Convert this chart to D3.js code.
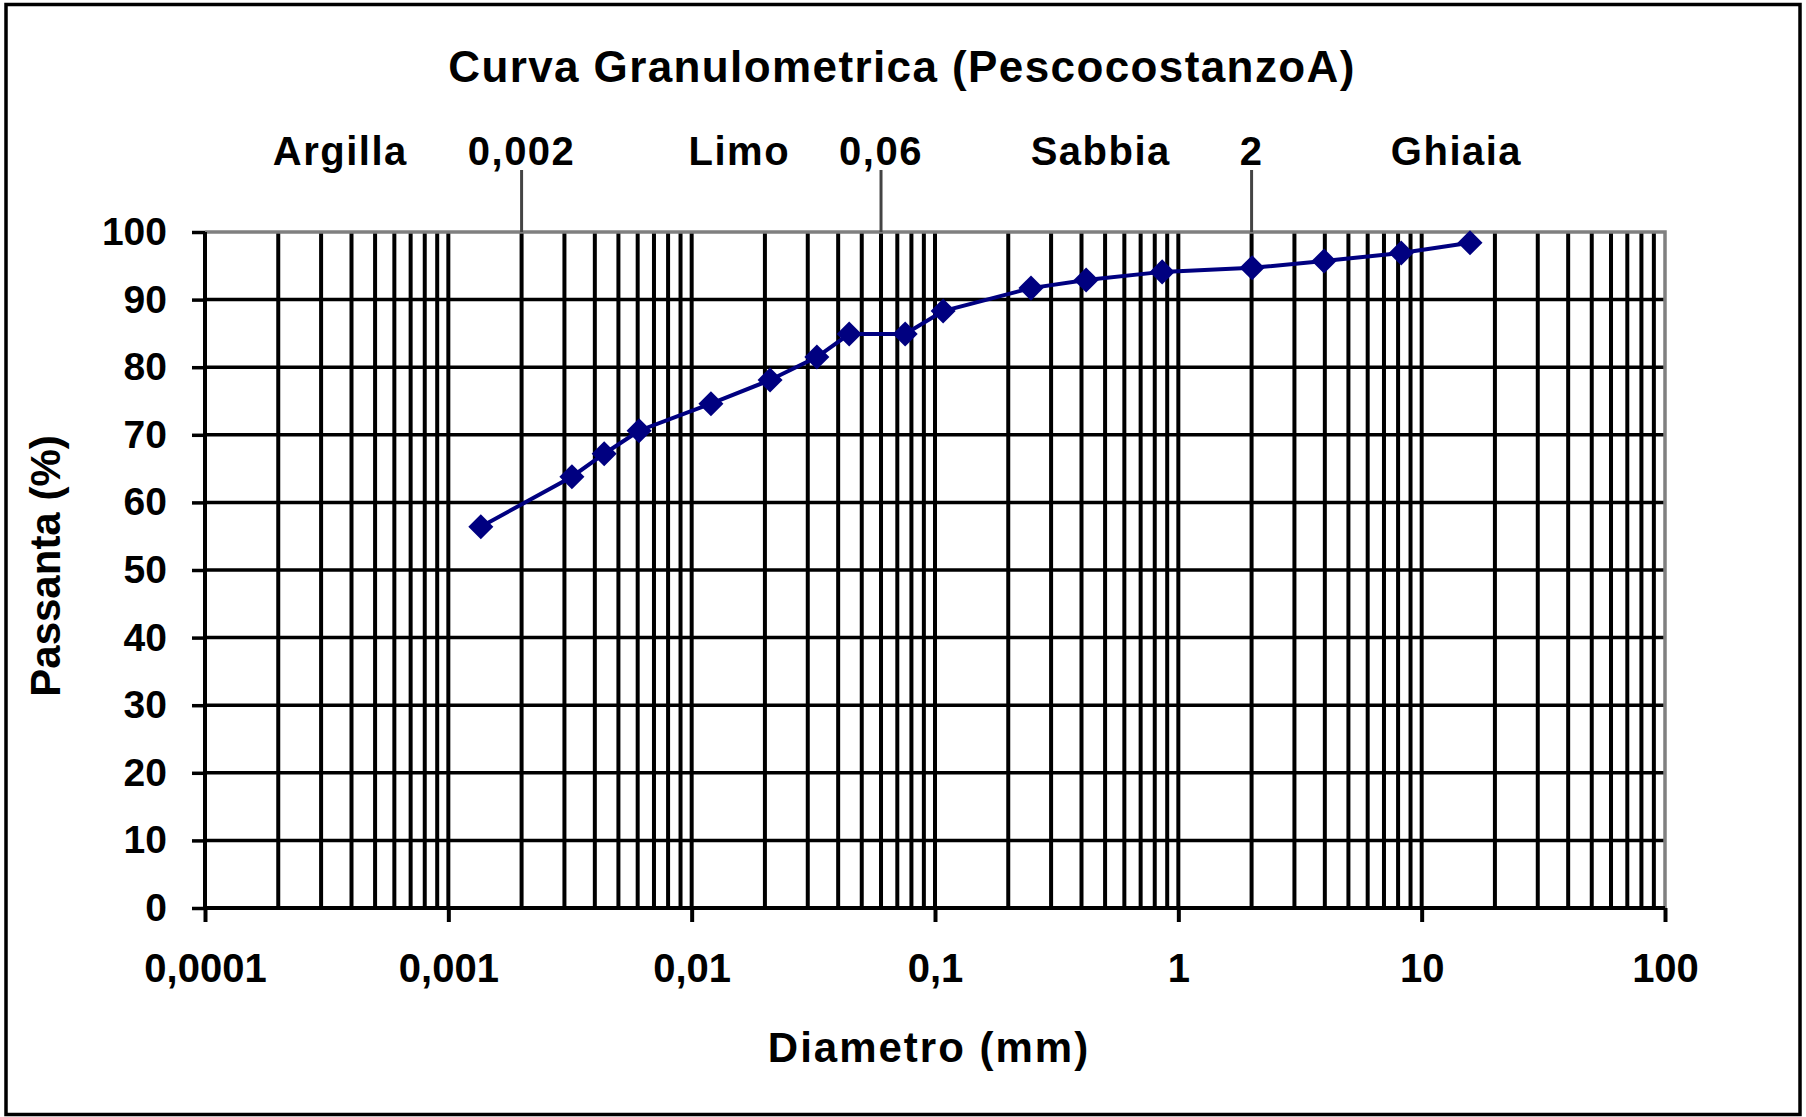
<!DOCTYPE html>
<html>
<head>
<meta charset="utf-8">
<script src="https://cdn.jsdelivr.net/npm/d3@7"></script>
<style>
  body { margin: 0; background: #fff; }
  svg { display: block; }
  text { font-family: "Liberation Sans", Arial, sans-serif; font-weight: bold; fill: #000; }
</style>
</head>
<body>
<svg id="chart" width="1806" height="1117"></svg>
<script>
// Grain-size distribution: diameter (mm) vs. percent passing
const diametri = [0.00136, 0.00322, 0.00437, 0.00608, 0.0120, 0.0210, 0.0327, 0.0444, 0.0754,
                  0.108, 0.248, 0.418, 0.858, 2.01, 3.97, 8.24, 15.8];
const passante = [56.4, 63.8, 67.2, 70.6, 74.6, 78.1, 81.5, 84.9, 84.9,
                  88.3, 91.7, 92.9, 94.1, 94.7, 95.7, 96.9, 98.4];

const xTicks = [0.0001, 0.001, 0.01, 0.1, 1, 10, 100];
const xTickLabels = ["0,0001", "0,001", "0,01", "0,1", "1", "10", "100"];
const yTicks = [0, 10, 20, 30, 40, 50, 60, 70, 80, 90, 100];

// Soil classes and the boundaries between them (mm)
const classi = ["Argilla", "Limo", "Sabbia", "Ghiaia"];
const limiti = [0.002, 0.06, 2];
const limitiLabels = ["0,002", "0,06", "2"];

const titolo = "Curva Granulometrica (PescocostanzoA)";
const xTitolo = "Diametro (mm)";
const yTitolo = "Passanta (%)";

// ---- layout ----
const plot = { left: 205, right: 1665, top: 232, bottom: 908 };
// where each class name sits along the diameter axis
const classiAnchor = [0.00036, 0.0157, 0.48, 13.9];

const svg = d3.select("#chart");

const x = d3.scaleLog().domain([xTicks[0], xTicks[xTicks.length - 1]]).range([plot.left, plot.right]);
const y = d3.scaleLinear().domain([0, 100]).range([plot.bottom, plot.top]);

// outer frame
svg.append("rect")
  .attr("x", 6).attr("y", 4.5).attr("width", 1794).attr("height", 1110)
  .attr("fill", "#fff").attr("stroke", "#000").attr("stroke-width", 3.5);

// minor + major vertical grid (1..9 per decade)
const vGrid = [];
for (let k = -4; k <= 1; k++) {
  for (let m = 1; m <= 9; m++) {
    if (k === -4 && m === 1) continue;
    vGrid.push(+(m * Math.pow(10, k)).toPrecision(3));
  }
}
svg.append("g").selectAll("line").data(vGrid).join("line")
  .attr("x1", d => x(d)).attr("x2", d => x(d))
  .attr("y1", plot.top).attr("y2", plot.bottom)
  .attr("stroke", "#000").attr("stroke-width", 4);

// horizontal grid
svg.append("g").selectAll("line").data(yTicks.filter(v => v > 0 && v < 100)).join("line")
  .attr("x1", plot.left).attr("x2", plot.right)
  .attr("y1", d => y(d)).attr("y2", d => y(d))
  .attr("stroke", "#000").attr("stroke-width", 3.5);

// top and right plot border (grey)
svg.append("path")
  .attr("d", `M${plot.left},${plot.top}H${plot.right}V${plot.bottom}`)
  .attr("fill", "none").attr("stroke", "#808080").attr("stroke-width", 3.5);

// y axis
const yAxis = svg.append("g")
  .attr("transform", `translate(${plot.left},0)`)
  .call(d3.axisLeft(y).tickValues(yTicks).tickSize(13).tickPadding(25).tickFormat(d => String(d)));
yAxis.select(".domain").attr("stroke", "#000").attr("stroke-width", 4)
  .attr("d", `M0,${plot.top}V${plot.bottom}`);
yAxis.selectAll(".tick line").attr("stroke", "#000").attr("stroke-width", 3.5);
yAxis.selectAll(".tick text").attr("font-size", 39).attr("fill", "#000")
  .attr("font-family", "Liberation Sans, Arial, sans-serif").attr("font-weight", "bold");

// x axis
const xAxis = svg.append("g")
  .attr("transform", `translate(0,${plot.bottom})`)
  .call(d3.axisBottom(x).tickValues(xTicks).tickSize(14).tickPadding(32)
        .tickFormat((d, i) => xTickLabels[i]));
xAxis.select(".domain").attr("stroke", "#000").attr("stroke-width", 4)
  .attr("d", `M${plot.left},0H${plot.right}`);
xAxis.selectAll(".tick line").attr("stroke", "#000").attr("stroke-width", 4);
xAxis.selectAll(".tick text").attr("font-size", 40).attr("fill", "#000")
  .attr("font-family", "Liberation Sans, Arial, sans-serif").attr("font-weight", "bold");

// class boundary markers above the plot
svg.append("g").selectAll("line").data(limiti).join("line")
  .attr("x1", d => x(d)).attr("x2", d => x(d))
  .attr("y1", 170).attr("y2", plot.top)
  .attr("stroke", "#444").attr("stroke-width", 3);
svg.append("g").selectAll("text").data(limiti).join("text")
  .attr("x", d => x(d)).attr("y", 165)
  .attr("text-anchor", "middle").attr("font-size", 40).attr("letter-spacing", 1.5)
  .text((d, i) => limitiLabels[i]);
svg.append("g").selectAll("text").data(classi).join("text")
  .attr("x", (d, i) => x(classiAnchor[i])).attr("y", 165)
  .attr("text-anchor", "middle").attr("font-size", 40).attr("letter-spacing", 1.5)
  .text(d => d);

// titles
svg.append("text").attr("x", 902).attr("y", 82).attr("text-anchor", "middle")
  .attr("font-size", 44).attr("letter-spacing", 1.4).text(titolo);
svg.append("text").attr("x", 929).attr("y", 1062).attr("text-anchor", "middle")
  .attr("font-size", 42).attr("letter-spacing", 2).text(xTitolo);
svg.append("text").attr("transform", "translate(60,566) rotate(-90)").attr("text-anchor", "middle")
  .attr("font-size", 42).text(yTitolo);

// data series
const pts = diametri.map((d, i) => [d, passante[i]]);
svg.append("path").datum(pts)
  .attr("fill", "none").attr("stroke", "#000080").attr("stroke-width", 4)
  .attr("d", d3.line().x(d => x(d[0])).y(d => y(d[1])));
svg.append("g").selectAll("path").data(pts).join("path")
  .attr("transform", d => `translate(${x(d[0])},${y(d[1])})`)
  .attr("d", d3.symbol(d3.symbolDiamond2, 400)())
  .attr("fill", "#000080");
</script>
</body>
</html>
